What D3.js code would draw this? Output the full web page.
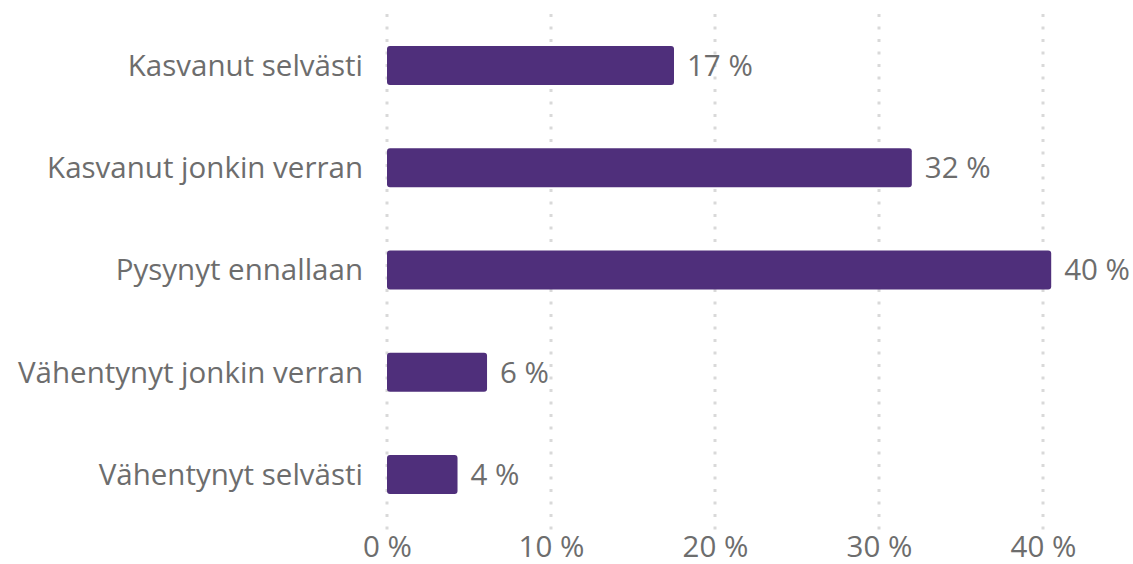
<!DOCTYPE html>
<html lang="fi">
<head>
<meta charset="UTF-8">
<title>Kasvanut / vähentynyt</title>
<script src="https://d3js.org/d3.v7.min.js"></script>
<style>
    body { margin: 0; background: #fff; }
    text { font-family: "Open Sans", sans-serif; fill: #6d6d6d; }
    .grid line { stroke: #d9d9d9; stroke-width: 3; stroke-dasharray: 3 9.5; }
    .bar { fill: #4f2f7b; }
</style>
</head>
<body>
<svg width="1133" height="564"></svg>
<script>
    const categories = [
        "Kasvanut selvästi",
        "Kasvanut jonkin verran",
        "Pysynyt ennallaan",
        "Vähentynyt jonkin verran",
        "Vähentynyt selvästi"
    ];
    const values = [17.5, 32.0, 40.5, 6.1, 4.3];
    const valueLabels = ["17 %", "32 %", "40 %", "6 %", "4 %"];
    const ticks = [0, 10, 20, 30, 40];

    const svg = d3.select("svg");
    const fontSize = 29.5;

    const x = d3.scaleLinear()
        .domain([0, 40])
        .range([387, 1043]);

    const y = d3.scaleBand()
        .domain(categories)
        .range([14.4, 525.6])
        .paddingInner(0.62)
        .paddingOuter(0.31);

    // dotted vertical grid
    svg.append("g")
        .attr("class", "grid")
        .selectAll("line")
        .data(ticks)
        .join("line")
        .attr("x1", d => x(d))
        .attr("x2", d => x(d))
        .attr("y1", 14)
        .attr("y2", 530);

    // bars
    svg.selectAll(".bar")
        .data(values)
        .join("rect")
        .attr("class", "bar")
        .attr("x", x(0))
        .attr("y", (d, i) => y(categories[i]))
        .attr("width", d => x(d) - x(0))
        .attr("height", y.bandwidth())
        .attr("rx", 3);

    // value labels
    svg.selectAll(".val")
        .data(values)
        .join("text")
        .attr("class", "val")
        .attr("x", d => x(d) + 13)
        .attr("y", (d, i) => y(categories[i]) + y.bandwidth() / 2)
        .attr("dy", "0.35em")
        .style("font-size", fontSize + "px")
        .text((d, i) => valueLabels[i]);

    // category axis (labels only)
    const yAxis = svg.append("g")
        .attr("transform", `translate(${x(0) - 24},0)`)
        .call(d3.axisLeft(y).tickSize(0).tickPadding(0));
    yAxis.select(".domain").remove();
    yAxis.selectAll("text")
        .style("font-size", fontSize + "px")
        .attr("fill", null)
        .attr("dy", "0.35em");

    // value axis (labels only)
    const xAxis = svg.append("g")
        .attr("transform", "translate(0,530)")
        .call(d3.axisBottom(x).tickValues(ticks).tickSize(0).tickPadding(0)
            .tickFormat(d => d + " %"));
    xAxis.select(".domain").remove();
    xAxis.selectAll("text")
        .style("font-size", fontSize + "px")
        .attr("fill", null)
        .attr("dy", "0.9em");
</script>
</body>
</html>
